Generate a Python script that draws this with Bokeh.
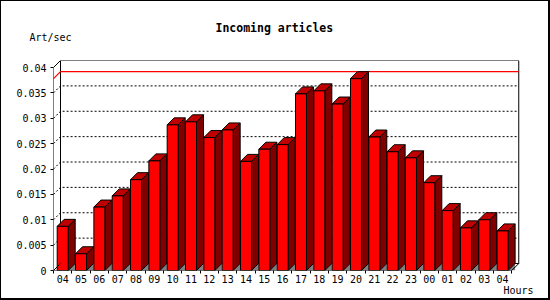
from bokeh.plotting import figure
from bokeh.models import Range1d, FixedTicker, Title, InlineStyleSheet
from bokeh.embed import file_html
from bokeh.resources import INLINE

# ---- data ----
hours = ["04", "05", "06", "07", "08", "09", "10", "11", "12", "13", "14", "15", "16",
         "17", "18", "19", "20", "21", "22", "23", "00", "01", "02", "03", "04"]
rates = [0.0087, 0.0033, 0.0125, 0.0147, 0.0179, 0.0216, 0.0287, 0.0293, 0.0262, 0.0277,
         0.0215, 0.0239, 0.0248, 0.0348, 0.0354, 0.0328, 0.0378, 0.0263, 0.0234, 0.0222,
         0.0173, 0.0118, 0.0084, 0.0100, 0.0078]
y_ticks = [0, 0.005, 0.01, 0.015, 0.02, 0.025, 0.03, 0.035, 0.04]
y_tick_labels = ["0", "0.005", "0.01", "0.015", "0.02", "0.025", "0.03", "0.035", "0.04"]
title_text = "Incoming articles"
y_title = "Art/sec"
x_title = "Hours"

# ---- geometry (pixel sizes converted to data units) ----
CAT_PX = 18.33
VAL_PX = 203 / 0.04
DEPTH = 7.0
DX = DEPTH / CAT_PX
DY = DEPTH / VAL_PX
BAR_OFF = 3.7 / CAT_PX
BAR_W = 11.0 / CAT_PX
N = len(hours)
YTOP = y_ticks[-1]

FL, FR, FT, FB = 53, 30, 60, 30
W, H = 550, 300
fw = W - FL - FR
fh = H - FT - FB
XMAX = fw / CAT_PX
YMAX = fh / VAL_PX

frame_css = InlineStyleSheet(css="""
:host { position: relative; }
:host::after {
  content: ""; position: absolute; left: 0; top: 0; width: 100%; height: 100%;
  box-sizing: border-box; border-style: solid; border-color: black;
  border-width: 1px 2px 2px 1px; pointer-events: none; z-index: 100;
}
""")

p = figure(width=W, height=H, output_backend="svg", toolbar_location=None,
           x_range=Range1d(0, XMAX), y_range=Range1d(0, YMAX),
           min_border_left=FL, min_border_right=FR, min_border_top=FT, min_border_bottom=FB,
           stylesheets=[frame_css])
p.outline_line_color = None
p.xgrid.visible = False
p.ygrid.visible = False
p.background_fill_color = "white"
p.border_fill_color = "white"

MONO = "DejaVu Sans Mono"

# y axis
ya = p.yaxis[0]
ya.ticker = FixedTicker(ticks=y_ticks)
ya.major_label_overrides = {t: l for t, l in zip(y_ticks, y_tick_labels)}
ya.axis_line_color = None
ya.major_tick_in = 0
ya.major_tick_out = 3
ya.major_tick_line_color = "black"
ya.major_label_standoff = 4
ya.major_label_text_font = MONO
ya.major_label_text_font_size = "10px"
ya.major_label_text_color = "black"

# x axis
centers = [i + 0.5 for i in range(N)]
bounds = [float(i) for i in range(N + 1)]
xa = p.xaxis[0]
xa.ticker = FixedTicker(ticks=centers, minor_ticks=bounds)
xa.major_label_overrides = {c: h for c, h in zip(centers, hours)}
xa.axis_line_color = None
xa.major_tick_line_color = None
xa.major_tick_in = 0
xa.major_tick_out = 0
xa.minor_tick_in = 0
xa.minor_tick_out = 3
xa.minor_tick_line_color = "black"
xa.major_label_standoff = 1
xa.major_label_text_font = MONO
xa.major_label_text_font_size = "10px"
xa.major_label_text_color = "black"

# back panel
right_back = N + DX
p.multi_line(xs=[[DX, DX, right_back, right_back, DX]],
             ys=[[DY, YTOP + DY, YTOP + DY, DY, DY]], line_color="black", line_width=1)
# dotted grid lines (front axis -> back wall)
gx, gy = [], []
for t in y_ticks[1:-1]:
    gx.append([0, DX, right_back])
    gy.append([t, t + DY, t + DY])
p.multi_line(xs=gx, ys=gy, line_color="black", line_width=1, line_dash="2 2")
# max line in red
vmax = max(rates)
p.line(x=[0, DX, right_back], y=[vmax, vmax + DY, vmax + DY], line_color="red", line_width=1.3)

# bars
fx_l = [i + BAR_OFF for i in range(N)]
fx_r = [i + BAR_OFF + BAR_W for i in range(N)]
shadow_xs = [[r, r + DX, r + DX] for r in fx_r]
shadow_ys = [[0, DY, 0] for _ in fx_r]
p.patches(xs=shadow_xs, ys=shadow_ys, fill_color="#808080", line_color=None)
side_xs = [[r, r, r + DX, r + DX] for r in fx_r]
side_ys = [[0, v, v + DY, DY] for v in rates]
p.patches(xs=side_xs, ys=side_ys, fill_color="#800000", line_color="black", line_width=1)
top_xs = [[l, r, r + DX, l + DX] for l, r in zip(fx_l, fx_r)]
top_ys = [[v, v, v + DY, v + DY] for v in rates]
p.patches(xs=top_xs, ys=top_ys, fill_color="#c00000", line_color="black", line_width=1)
p.quad(left=fx_l, right=fx_r, bottom=0, top=rates, fill_color="#ff0000",
       line_color="black", line_width=1)

# front axes
p.multi_line(xs=[[DX, 0, 0, N, right_back], [0, DX]],
             ys=[[YTOP + DY, YTOP, 0, 0, DY], [0, DY]], line_color="black", line_width=1)

# texts as titles (first added "above" sits nearest the frame)
p.add_layout(Title(text=y_title, align="left", offset=-24, standoff=35,
                   text_font=MONO, text_font_style="normal", text_font_size="10px",
                   text_color="black"), "above")
p.add_layout(Title(text=title_text, align="left", offset=162, standoff=-44,
                   text_font=MONO, text_font_style="bold", text_font_size="11.5px",
                   text_color="black"), "above")
p.add_layout(Title(text=x_title, align="right", offset=-13, standoff=-5,
                   text_font=MONO, text_font_style="normal", text_font_size="10px",
                   text_color="black"), "below")

open("out.html", "w").write(file_html(p, INLINE))
